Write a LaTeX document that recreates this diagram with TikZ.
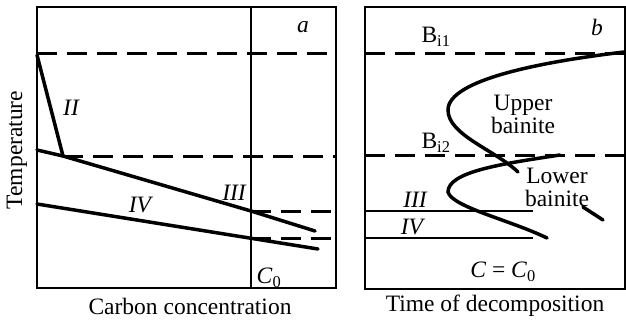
\documentclass[tikz,border=0pt]{standalone}
\usepackage{fontspec}
\setmainfont{Liberation Serif}
\begin{document}
\begin{tikzpicture}[x=1pt,y=-1pt,
  frame/.style={line width=2.5pt},
  curve/.style={line width=3.5pt, line cap=round},
  thin/.style={line width=2.5pt},
  dashline/.style={line width=3pt, dash pattern=on 20pt off 10pt},
  lbl/.style={inner sep=0pt, font=\fontsize{23.5}{26}\selectfont},
  ilbl/.style={inner sep=0pt, font=\fontsize{23.5}{26}\selectfont\itshape}]
\useasboundingbox (0,0) rectangle (626,322);
% ---------- panel a ----------
\coordinate (aTL) at (37,7);
\coordinate (aBR) at (336,288);
\draw[frame] (aTL) rectangle (aBR);
\coordinate (c0top) at (251,7);
\coordinate (c0bot) at (251,288);
\draw[frame] (c0top) -- (c0bot);
\coordinate (ad1l) at (37,53);  \coordinate (ad1r) at (336,53);
\coordinate (ad2l) at (63,156); \coordinate (ad2r) at (336,156);
\coordinate (ad3l) at (251,211); \coordinate (ad3r) at (336,211);
\coordinate (ad4l) at (251,238); \coordinate (ad4r) at (336,238);
\draw[dashline] (ad1l) -- (ad1r);
\draw[dashline] (ad2l) -- (ad2r);
\draw[dashline] (ad3l) -- (ad3r);
\draw[dashline] (ad4l) -- (ad4r);
\coordinate (IItop) at (37,55);
\coordinate (IIbot) at (63,156);
\draw[curve] (IItop) -- (IIbot);
\coordinate (IIIa) at (37,150);
\coordinate (IIIb) at (251,211);
\coordinate (IIIc) at (315,231);
\draw[curve] (IIIa) -- (IIbot) -- (IIIb) -- (IIIc);
\coordinate (IVa) at (37,204);
\coordinate (IVb) at (318,249);
\draw[curve] (IVa) -- (IVb);
\node[ilbl] (la) at (303,27) {a};
\node[ilbl] (lII) at (71,108) {II};
\node[ilbl] (lIII) at (234,193) {III};
\node[ilbl] (lIV) at (140,205) {IV};
\node[lbl] (lC0) at (269,278) {\textit{C}\textsubscript{0}};
\node[lbl, rotate=90] (ltemp) at (17,150) {Temperature};
\node[lbl] (lcc) at (190,306) {Carbon concentration};
% ---------- panel b ----------
\coordinate (bTL) at (365,7);
\coordinate (bBR) at (625,289);
\draw[frame] (bTL) rectangle (bBR);
\coordinate (bd1l) at (365,53); \coordinate (bd1r) at (625,53);
\coordinate (bd2l) at (365,155); \coordinate (bd2r) at (625,155);
\draw[dashline] (bd1l) -- (bd1r);
\draw[dashline] (bd2l) -- (bd2r);
\coordinate (bIIIl) at (365,211); \coordinate (bIIIr) at (533,211);
\coordinate (bIVl) at (365,238); \coordinate (bIVr) at (533,238);
\draw[thin] (bIIIl) -- (bIIIr);
\draw[thin] (bIVl) -- (bIVr);
% upper C curve
\coordinate (u0) at (624,52);
\coordinate (u1) at (448,110);
\coordinate (u2) at (518,172);
\draw[curve] (u0) .. controls (540,62) and (448,80) .. (u1)
  .. controls (448,135) and (495,150) .. (u2);
\coordinate (u3) at (583,207);
\coordinate (u4) at (603,220);
\draw[curve] (u3) -- (u4);
% lower C curve
\coordinate (l0) at (560,155);
\coordinate (l1) at (448,192);
\coordinate (l2) at (547,238);
\draw[curve] (l0) .. controls (500,164) and (448,172) .. (l1)
  .. controls (452,207) and (510,220) .. (l2);
\node[lbl] (lBi1) at (436,37) {B\textsubscript{i1}};
\node[lbl] (lBi2) at (436,143) {B\textsubscript{i2}};
\node[ilbl] (lb) at (597,27) {b};
\node[lbl, anchor=base] (lub1) at (523,110) {Upper};
\node[lbl, anchor=base] (lub2) at (523,133) {bainite};
\node[lbl, anchor=base] (llb1) at (557,183) {Lower};
\node[lbl, anchor=base] (llb2) at (557,206) {bainite};
\node[ilbl] (lbIII) at (415,200) {III};
\node[ilbl] (lbIV) at (412,227) {IV};
\node[lbl] (lCC0) at (503,272) {\textit{C} = \textit{C}\textsubscript{0}};
\node[lbl] (ltd) at (495,306) {Time of decomposition};
\end{tikzpicture}
\end{document}
